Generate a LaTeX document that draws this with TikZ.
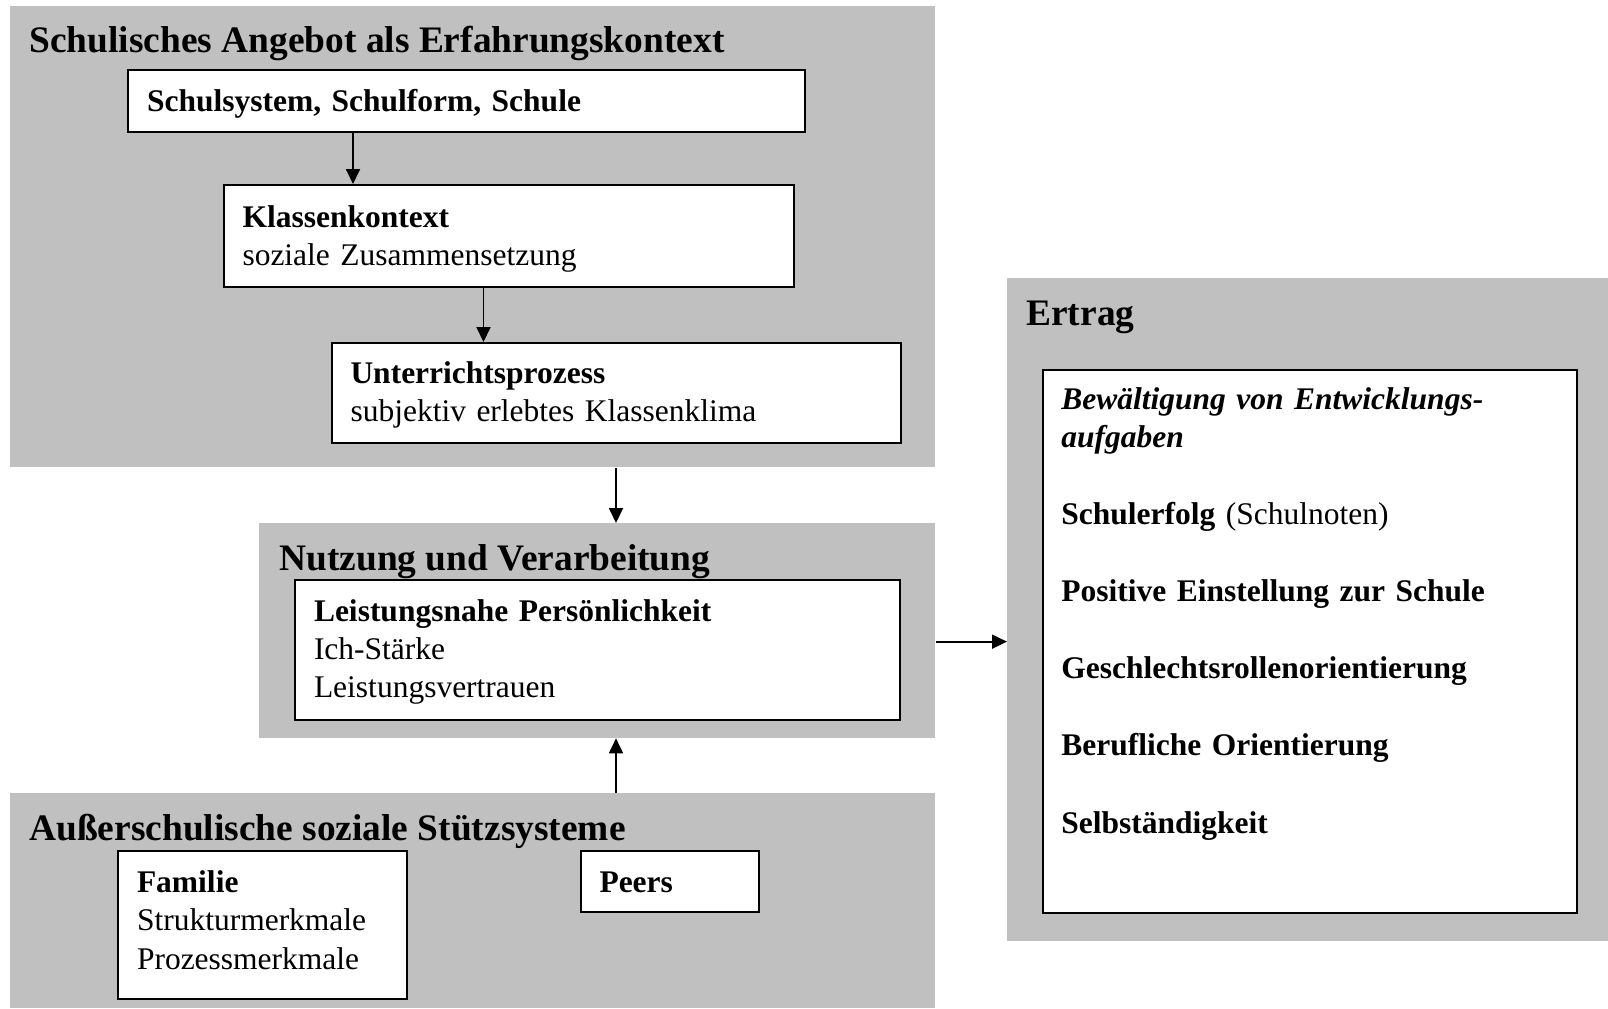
\documentclass[tikz,border=0pt]{standalone}
\usepackage{fontspec}
\setmainfont{Liberation Serif}
\usetikzlibrary{arrows.meta}

\definecolor{areagray}{RGB}{192,192,192}
\newcommand{\boxfont}{\fontsize{15.75}{19.1}\selectfont}
\newcommand{\headingfont}{\fontsize{18.7}{22}\selectfont\bfseries}

\tikzset{
	area/.style={fill=areagray, inner sep=0pt, anchor=north west},
	box/.style={draw, line width=1pt, fill=white, anchor=north west, inner xsep=9.5pt, inner ysep=0pt, align=left, font=\boxfont, text height=12pt},
	heading/.style={anchor=base west, inner sep=0pt, font=\headingfont},
	arr/.style={-{Triangle[length=7.5pt,width=7pt]}, line width=0.9pt},
}

\begin{document}
\begin{tikzpicture}[x=0.5pt, y=-0.5pt]

		\useasboundingbox (0,0) rectangle (1608,1008);

		% grey areas
		\node [area, minimum width=462.75pt, minimum height=230.75pt]	(angebot)	at (9.5,5.5) {};
		\node [area, minimum width=338.25pt, minimum height=107.25pt]	(nutzung)	at (258.5,523) {};
		\node [area, minimum width=462.75pt, minimum height=107.5pt]	(stuetz)	at (9.5,793) {};
		\node [area, minimum width=300.5pt, minimum height=331.5pt]		(ertrag)	at (1007,278) {};

		% headings
		\node [heading] (angebottitle)	at (29,52)		{Schulisches Angebot als Erfahrungskontext};
		\node [heading] (nutzungtitle)	at (279,570)	{Nutzung und Verarbeitung};
		\node [heading] (stuetztitle)	at (29,840)		{Außerschulische soziale Stützsysteme};
		\node [heading] (ertragtitle)	at (1026,325)	{Ertrag};

		% boxes
		\node [box, minimum width=338.5pt, minimum height=31pt, text width=319.5pt, text depth=2pt]	(schulsystem)	at (127,69)		{\textbf{Schulsystem, Schulform, Schule}};
		\node [box, minimum width=285pt, minimum height=51pt, text width=266pt, text depth=21pt]		(klasse)		at (222.5,184)	{\textbf{Klassenkontext}\\ soziale Zusammensetzung};
		\node [box, minimum width=284.5pt, minimum height=50pt, text width=265.5pt, text depth=21.3pt]	(unterricht)	at (330.5,342)	{\textbf{Unterrichtsprozess}\\ subjektiv erlebtes Klassenklima};
		\node [box, minimum width=302.5pt, minimum height=70pt, text width=283.5pt, text depth=40.5pt]	(leistung)		at (294,578.5)	{\textbf{Leistungsnahe Persönlichkeit}\\ Ich-Stärke\\ Leistungsvertrauen};
		\node [box, minimum width=144.5pt, minimum height=74pt, text width=125.5pt, text depth=44.3pt]	(familie)		at (117,850)	{\textbf{Familie}\\ Strukturmerkmale\\ Prozessmerkmale};
		\node [box, minimum width=89pt, minimum height=30.5pt, text width=70pt, text depth=0.8pt]		(peers)			at (579.5,850)	{\textbf{Peers}};
		\node [box, minimum width=267pt, minimum height=271.5pt]									(ertragbox)		at (1042,369)	{};

		\node [anchor=base west, inner sep=0pt, align=left, font=\boxfont, text width=248pt] (ertragtext) at (1061,409.5) {%
			\textbf{\textit{Bewältigung von Entwicklungs-}}\\
			\textbf{\textit{aufgaben}}\\[19.2pt]
			\textbf{Schulerfolg} (Schulnoten)\\[19.5pt]
			\textbf{Positive Einstellung zur Schule}\\[19.5pt]
			\textbf{Geschlechtsrollenorientierung}\\[19.5pt]
			\textbf{Berufliche Orientierung}\\[19.5pt]
			\textbf{Selbständigkeit}};

		% connectors
		\draw [arr] ([xshift=113pt]schulsystem.south west) coordinate (s1) to (s1 |- klasse.north);
		\draw [arr] ([xshift=130.5pt]klasse.south west) coordinate (s2) to (s2 |- unterricht.north);
		\draw [arr] (unterricht.south |- angebot.south) to (unterricht.south |- nutzung.north);
		\draw [arr] (unterricht.south |- stuetz.north) to (unterricht.south |- nutzung.south);
		\draw [arr] ([yshift=-5.5pt]nutzung.east) coordinate (s3) to (s3 -| ertrag.west);

	\end{tikzpicture}
\end{document}
